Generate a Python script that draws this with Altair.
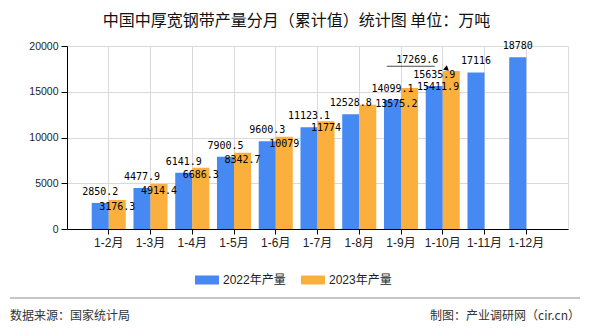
import altair as alt
import pandas as pd

# ---------------- data ----------------
months = ["1-2月", "1-3月", "1-4月", "1-5月", "1-6月", "1-7月",
          "1-8月", "1-9月", "1-10月", "1-11月", "1-12月"]
series_names = ["2022年产量", "2023年产量"]
values_2022 = [2850.2, 4477.9, 6141.9, 7900.5, 9600.3, 11123.1,
               12528.8, 14099.1, 15635.9, 17116, 18780]
values_2023 = [3176.3, 4914.4, 6686.3, 8342.7, 10079, 11774,
               13575.2, 15411.9, 17269.6]
y_ticks = [0, 5000, 10000, 15000, 20000]

title_text = "中国中厚宽钢带产量分月（累计值）统计图 单位：万吨"
source_text = "数据来源：国家统计局"
credit_text = "制图：产业调研网（cir.cn）"

# label placement groups (months whose 2023 label is displaced)
side_label_months = ["1-8月", "1-9月"]
callout_months = ["1-10月"]

colors = ["#4689f2", "#fbb03e"]
cjk = "Liberation Sans, Noto Sans CJK SC"
mono = "DejaVu Sans Mono"

rows = []
for m, v in zip(months, values_2022):
    rows.append(dict(month=m, series=series_names[0], value=v,
                     label=f"{v:g}", place="above"))
for m, v in zip(months, values_2023):
    place = "inside"
    if m in side_label_months:
        place = "side"
    elif m in callout_months:
        place = "callout"
    rows.append(dict(month=m, series=series_names[1], value=v,
                     label=f"{v:g}", place=place))
df = pd.DataFrame(rows)

# ---------------- encodings ----------------
x_axis = alt.Axis(title=None, labelAngle=0, domainColor="black", tickColor="black",
                  tickSize=5, labelPadding=3, grid=True, gridColor="#d9d9d9",
                  labelFont=cjk, labelFontSize=12, labelColor="#222")
x_scale = alt.Scale(domain=months, paddingInner=0, paddingOuter=0.5)
x = alt.X("month:N", sort=months, scale=x_scale, axis=x_axis)
x_orange = alt.X("month:N", sort=months, scale=x_scale, axis=x_axis, bandPosition=0.704)
xo = alt.XOffset("series:N", scale=alt.Scale(domain=series_names, paddingInner=0,
                                              paddingOuter=0.2255))
y = alt.Y("value:Q", scale=alt.Scale(domain=[0, 20000], nice=False),
          axis=alt.Axis(values=y_ticks, format="d", title=None, domainColor="black",
                        tickColor="black", tickSize=6, labelPadding=3,
                        gridColor="#d9d9d9", labelFont="Liberation Sans",
                        labelFontSize=10.5, labelColor="#222"))
color = alt.Color("series:N", scale=alt.Scale(domain=series_names, range=colors),
                  legend=alt.Legend(title=None, orient="none", direction="horizontal",
                                    legendX=128, legendY=222,
                                    symbolType="M-1,-0.375H1V0.375H-1Z",
                                    symbolSize=576, symbolStrokeWidth=0,
                                    symbolOpacity=1, labelFont=cjk,
                                    labelFontSize=12, labelColor="#222",
                                    columnPadding=15, labelOffset=4))

base = alt.Chart(df)

bars = base.mark_bar().encode(x=x, xOffset=xo, y=y, color=color)

lab_above = base.transform_filter(alt.datum.place == "above").mark_text(
    baseline="alphabetic", dy=-8, font=mono, fontSize=10, color="black"
).encode(x=x, xOffset=xo, y=y, text="label:N")

lab_inside = base.transform_filter(alt.datum.place == "inside").mark_text(
    baseline="top", dy=2, font=mono, fontSize=10, color="black"
).encode(x=x, xOffset=xo, y=y, text="label:N")

lab_side = base.transform_filter(alt.datum.place == "side").mark_text(
    align="left", baseline="middle", dx=7.5, dy=-1, font=mono, fontSize=10, color="black"
).encode(x=x, xOffset=xo, y=y, text="label:N")

lab_callout = base.transform_filter(alt.datum.place == "callout").mark_text(
    baseline="alphabetic", dx=-34, dy=-8, font=mono, fontSize=10, color="black"
).encode(x=x, xOffset=xo, y=y, text="label:N")

callout_line = base.transform_filter(alt.datum.place == "callout").mark_tick(
    orient="horizontal", size=48, thickness=1, color="black", xOffset=-32, yOffset=-4.7
).encode(x=x_orange, y=y)

callout_arrow = base.transform_filter(alt.datum.place == "callout").mark_point(
    shape="triangle", filled=True, size=34, angle=130, color="black", opacity=1,
    xOffset=-5, yOffset=-2.5
).encode(x=x_orange, y=y)

one = alt.Data(values=[{"k": 1}])
footer_rule = alt.Chart(one).mark_rule(color="#8c8c8c", strokeWidth=1).encode(
    x=alt.value(-57), x2=alt.value(513), y=alt.value(252))
footer_left = alt.Chart(one).mark_text(
    align="left", baseline="middle", font="Noto Sans CJK SC", fontSize=12, color="#333"
).encode(x=alt.value(-57), y=alt.value(270), text=alt.value(source_text))
footer_right = alt.Chart(one).mark_text(
    align="right", baseline="middle", font="Noto Sans CJK SC", fontSize=12, color="#333"
).encode(x=alt.value(513), y=alt.value(270), text=alt.value(credit_text))

chart = alt.layer(
    bars, lab_above, lab_inside, lab_side, lab_callout, callout_line, callout_arrow,
    footer_rule, footer_left, footer_right
).properties(
    width=501, height=183,
    padding={"left": 67, "top": 46, "right": 22, "bottom": 101},
    autosize=alt.AutoSizeParams(type="none"),
    title=alt.TitleParams(title_text, font="Noto Sans CJK SC", fontSize=16,
                          fontWeight="normal", color="#111", anchor="middle",
                          dx=-21, offset=12),
).configure_view(stroke="#d9d9d9").configure(background="white")

chart.save("out.html", embed_options={"renderer": "svg", "actions": False})
